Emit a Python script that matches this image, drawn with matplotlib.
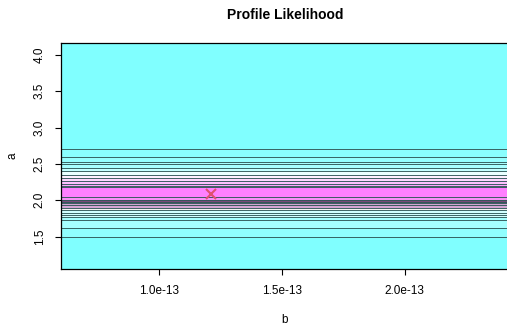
import numpy as np
import matplotlib
matplotlib.use("Agg")
import matplotlib.pyplot as plt
from matplotlib.ticker import FuncFormatter

plt.rcParams['font.family'] = ['Liberation Sans', 'DejaVu Sans']

# band edges in a (top to bottom) and fill colours between them
band_edges = [4.20, 2.70, 2.60, 2.51, 2.45, 2.40, 2.35, 2.30, 2.26, 2.22,
              2.18, 2.03, 2.00, 1.96, 1.89, 1.85, 1.75, 1.62, 1.50, 1.00]
band_colors = ['#80FFFF', '#8AFFFF', '#96FFFF', '#A8FFFF', '#C4FFFF', '#EAFFFF',
               '#FFF0FF', '#FFD8FF', '#FFC0FF', '#FFA6FF', '#FF80FF', '#F890F8',
               '#7A4A7A', '#D4A6D4', '#F2F2F2', '#D2FFFF', '#A6FFFF', '#90FFFF',
               '#80FFFF']

# contour lines (a values)
contour_a = [2.707, 2.60, 2.52, 2.50, 2.45, 2.40, 2.35, 2.30, 2.26, 2.22,
             2.20, 2.18, 2.04, 2.00, 1.98, 1.96, 1.93, 1.89, 1.86, 1.83,
             1.80, 1.77, 1.73, 1.62, 1.50]

# maximum likelihood estimate
mle_b = [1.21e-13]
mle_a = [2.088]

x_ticks = [1.0e-13, 1.5e-13, 2.0e-13]
y_ticks = [1.5, 2.0, 2.5, 3.0, 3.5, 4.0]

fig = plt.figure(figsize=(5.07, 3.32), dpi=100)
ax = fig.add_axes([61/507, 1 - 268.5/332, 448/507, 225.2/332])

for i in range(len(band_colors)):
    ax.axhspan(band_edges[i + 1], band_edges[i], color=band_colors[i], lw=0)
for a in contour_a:
    ax.axhline(a, color='#305858', lw=0.65)

ax.plot(mle_b, mle_a, 'x', color='#E05070', ms=7.5, mew=1.5)

ax.set_xlim(0.6e-13, 2.424e-13)
ax.set_ylim(1.06, 4.16)
ax.set_xticks(x_ticks)
ax.set_yticks(y_ticks)
ax.xaxis.set_major_formatter(FuncFormatter(lambda v, p: '%.1fe-13' % (v / 1e-13)))
ax.yaxis.set_major_formatter(FuncFormatter(lambda v, p: '%.1f' % v))
ax.tick_params(axis='x', length=4.5, width=0.8, pad=7.5, labelsize=8.5)
ax.tick_params(axis='y', length=4.5, width=0.8, pad=6.5, labelsize=8.5)
for lab in ax.get_yticklabels():
    lab.set_rotation(90)
    lab.set_va('center')
for s in ax.spines.values():
    s.set_linewidth(0.9)

fig.text(285/507, 1 - 15/332, 'Profile Likelihood', ha='center', va='center',
         fontsize=10, fontweight='bold')
fig.text(285/507, 1 - 320/332, 'b', ha='center', va='center', fontsize=8.5)
fig.text(12/507, 1 - 156/332, 'a', ha='center', va='center', fontsize=8.5,
         rotation=90)

fig.savefig('out.png', dpi=100)
